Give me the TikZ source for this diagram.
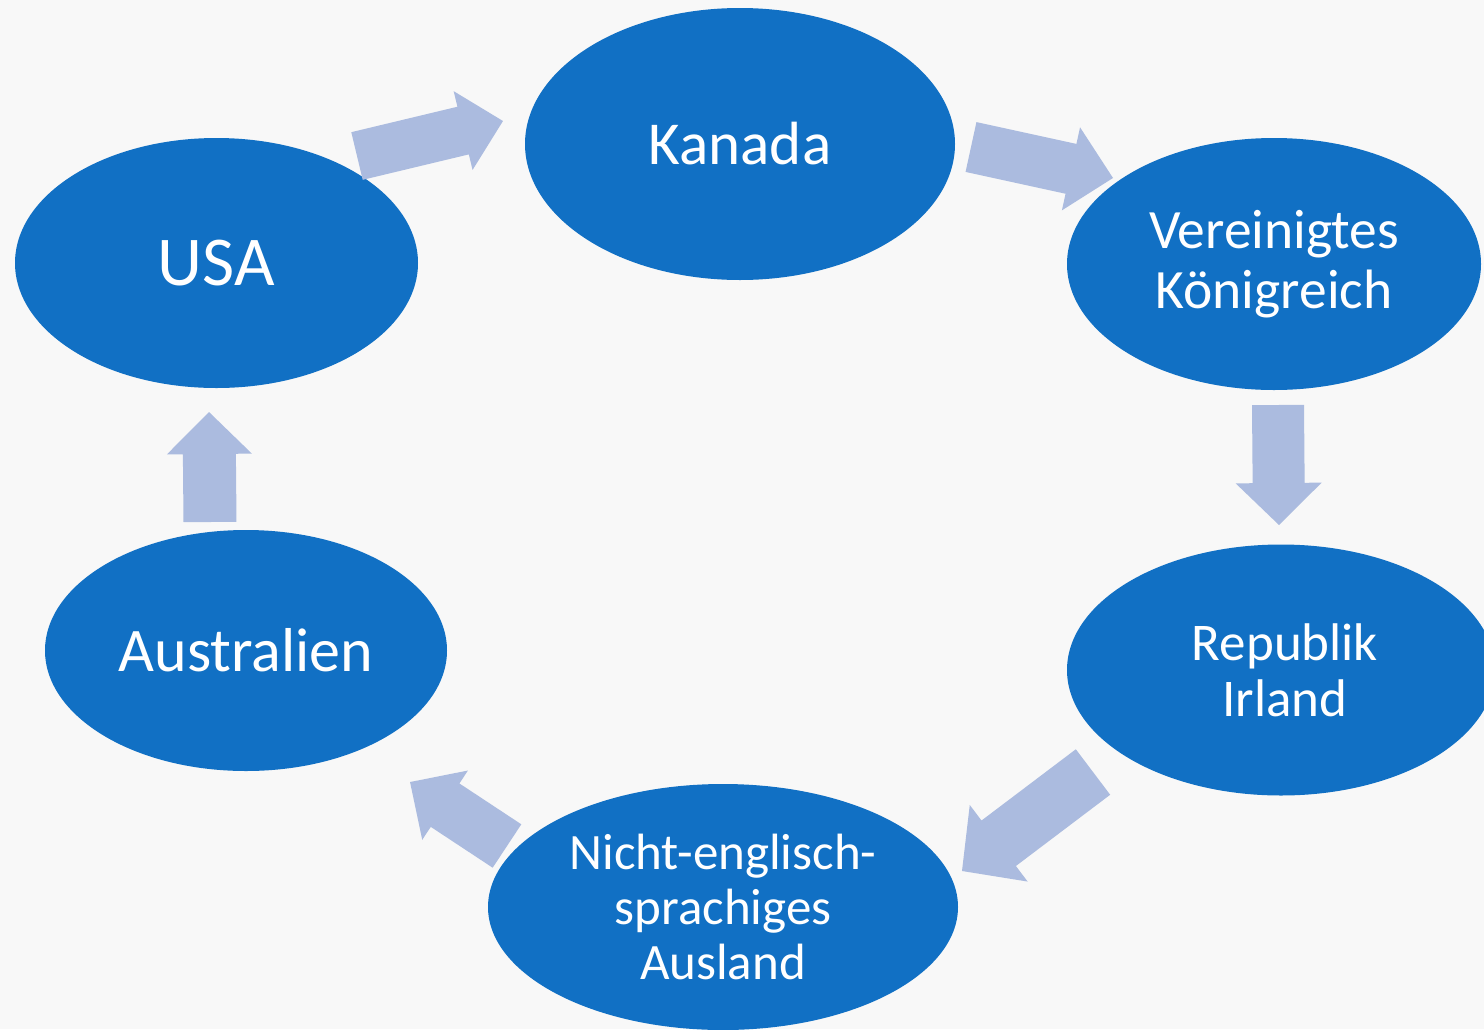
\documentclass[tikz,border=0pt]{standalone}
\usepackage{fontspec}
\newfontfamily\carl{Carlito}
\usetikzlibrary{shapes.geometric}
\definecolor{ellblue}{RGB}{17,112,196}
\definecolor{arrowblue}{RGB}{171,187,223}
\definecolor{bgcol}{RGB}{248,248,248}
% #1 name, #2 #3 tail centre, #4 #5 tip, #6 shaft width, #7 head width, #8 head length
\newcommand{\blockarrow}[8]{%
  \coordinate (#1-tail) at (#2,#3);
  \coordinate (#1-tip) at (#4,#5);
  \pgfmathsetmacro\baang{atan2(#3-#5,#4-#2)}%
  \pgfmathsetmacro\balen{veclen(#4-#2,#5-#3)}%
  \pgfmathsetmacro\babase{\balen-#8}%
  \pgfmathsetmacro\bashaft{#6/2}%
  \pgfmathsetmacro\bahead{#7/2}%
  \begin{scope}[shift={(#1-tail)}, rotate=\baang]
    \fill[blockfill] (0,-\bashaft) -- (\babase,-\bashaft) -- (\babase,-\bahead)
      -- (\balen,0) -- (\babase,\bahead) -- (\babase,\bashaft) -- (0,\bashaft) -- cycle;
  \end{scope}%
}
\begin{document}
\begin{tikzpicture}[x=1pt,y=-1pt,
  ell/.style={ellipse, fill=ellblue, text=white, inner sep=0pt, outer sep=0pt, align=center},
  blockfill/.style={fill=arrowblue}]
\useasboundingbox (0,0) rectangle (1484,1029);
\clip (0,0) rectangle (1484,1029);
\fill[bgcol] (0,0) rectangle (1484,1029);

\node[ell, minimum width=430pt, minimum height=272pt,
  font=\carl\fontsize{61}{66}\selectfont] (kan) at (740,144) {Kanada};
\node[ell, minimum width=403pt, minimum height=250pt,
  font=\carl\fontsize{70}{76}\selectfont] (usa) at (216.5,263) {USA};
\node[ell, minimum width=414pt, minimum height=252pt,
  font=\carl\fontsize{55.5}{60}\selectfont] (vk) at (1274,264) {Vereinigtes\\Königreich};
\node[ell, minimum width=428pt, minimum height=251pt,
  font=\carl\fontsize{53}{56}\selectfont] (irl) at (1281,670) {\hspace*{8pt}Republik\\\hspace*{8pt}Irland};
\node[ell, minimum width=470pt, minimum height=246pt,
  font=\carl\fontsize{51}{55}\selectfont] (nea) at (723,907) {Nicht-englisch-\\sprachiges\\Ausland};
\node[ell, minimum width=402pt, minimum height=241pt,
  font=\carl\fontsize{62}{68}\selectfont] (aus) at (246,650.5) {Australien};

\blockarrow{a1}{357}{156}{503}{121}{49}{81}{41}
\blockarrow{a2}{971}{147}{1113}{178}{51}{85}{43}
\blockarrow{a3}{1278}{405}{1279}{525}{52}{86}{42}
\blockarrow{a4}{1093}{772}{962}{871}{57}{96}{46}
\blockarrow{a5}{507}{846}{410}{782}{52}{83}{42}
\blockarrow{a6}{210}{522}{209}{412}{53}{85}{42}
\end{tikzpicture}
\end{document}
